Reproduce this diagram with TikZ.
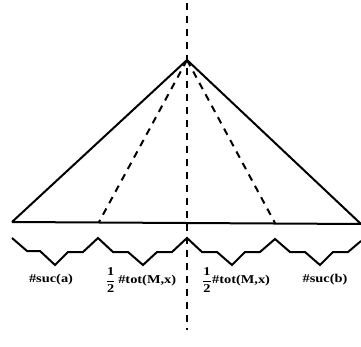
\documentclass[tikz,border=0pt]{standalone}
\usepackage{fontspec}
\setmainfont{Liberation Serif}
\begin{document}
\begin{tikzpicture}[x=1pt,y=1pt,
  solidline/.style={line width=2pt, line join=miter},
  dashline/.style={line width=2pt, dash pattern=on 7pt off 6pt},
  lbl/.style={font=\fontsize{12}{14}\selectfont\bfseries, inner sep=0pt, xscale=1.2, transform shape}]
\useasboundingbox (0,0) rectangle (361,346);
% key points (y = 346 - image y)
\coordinate (apex) at (187,286);
\coordinate (bl) at (12,124);
\coordinate (br) at (361,122);
\coordinate (dl) at (99,124);
\coordinate (dr) at (275,123);
\coordinate (vtop) at (187,343);
\coordinate (vbot) at (187,16);
% triangle
\draw[solidline] (bl) -- (apex) -- (br) -- (bl);
% dashed lines
\draw[dashline] (apex) -- (dl);
\draw[dashline] (apex) -- (dr);
\draw[dashline] (vtop) -- (vbot);
% zigzag
\draw[solidline] (12,108)
  -- (27,95) -- (40,95) -- (55,81) -- (68,94) -- (83,94) -- (98,108)
  -- (113,94) -- (128,94) -- (143,81) -- (157,94) -- (172,94) -- (187,108)
  -- (202,94) -- (217,94) -- (232,81) -- (245,94) -- (260,94) -- (275,107)
  -- (290,94) -- (305,94) -- (320,81) -- (333,94) -- (348,94) -- (361,105);
% labels
\node[lbl] (sa) at (51,66) {\#suc(a)};
\node[lbl] (tl) at (141,66) {$\displaystyle\mathbf{\frac{1}{2}}$\,\#tot(M,x)};
\node[lbl] (tr) at (236,66) {$\displaystyle\mathbf{\frac{1}{2}}$\#tot(M,x)};
\node[lbl] (sb) at (325,66) {\#suc(b)};
\end{tikzpicture}
\end{document}
